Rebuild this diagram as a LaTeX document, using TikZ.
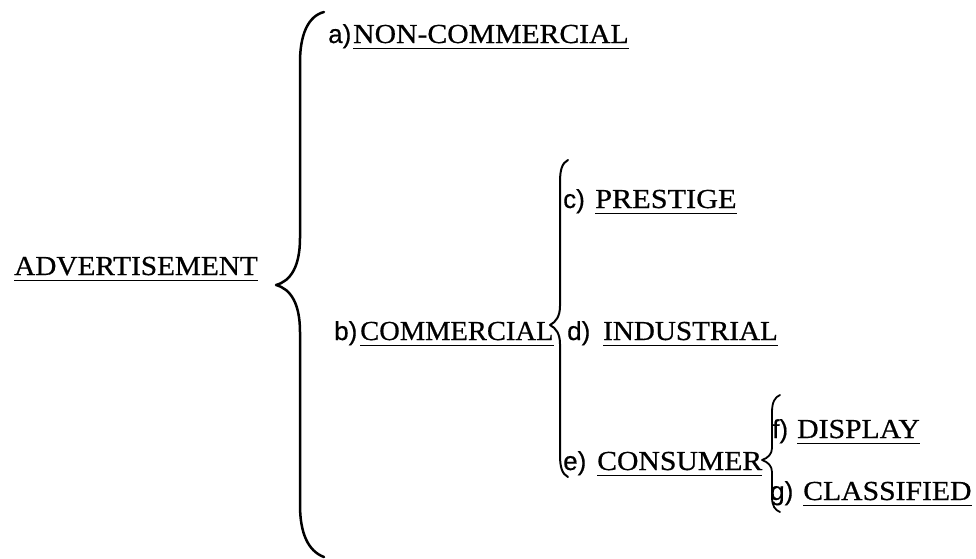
\documentclass[tikz,border=0pt]{standalone}
\usepackage{fontspec}
\setmainfont{Liberation Serif}[FakeStretch=1.08, FakeBold=0.6]
\newfontfamily\prefixfont{Liberation Sans}[FakeBold=0.5]
\usetikzlibrary{calc}
\tikzset{
  word/.style={anchor=base west, inner sep=0pt, font=\fontsize{27.5}{30}\selectfont},
  tag/.style={anchor=base west, inner sep=0pt, font=\prefixfont\fontsize{26}{30}\selectfont},
  brace/.style={line width=2.2pt, line cap=round, line join=round},
  uline/.style={line width=1.7pt}
}
\newcommand{\underword}[1]{\draw[uline] ($(#1.base west)+(0,5.5)$) -- ($(#1.base east)+(0,5.5)$);}
\begin{document}
\begin{tikzpicture}[x=1pt, y=-1pt]
\useasboundingbox (0,0) rectangle (976,558);

% root
\node[word] (adv) at (14,275) {\scalebox{0.985}[1]{ADVERTISEMENT}};

% first level
\node[tag]  (ta) at (328,43) {a)};
\node[word] (nc) at (353,43) {NON-COMMERCIAL};
\node[tag]  (tb) at (334,340) {b)};
\node[word] (cm) at (360,340) {\scalebox{0.96}[1]{COMMERCIAL}};

% second level
\node[tag]  (tc) at (563,208) {c)};
\node[word] (pr) at (595,208) {\scalebox{1.02}[1]{PRESTIGE}};
\node[tag]  (td) at (567,340) {d)};
\node[word] (in) at (603,340) {\scalebox{0.98}[1]{INDUSTRIAL}};
\node[tag]  (te) at (563,470) {e)};
\node[word] (co) at (597,470) {CONSUMER};

% third level
\node[tag]  (tf) at (772,438) {f)};
\node[word] (di) at (797,438) {DISPLAY};
\node[tag]  (tg) at (770,500) {g)};
\node[word] (cl) at (803,500) {CLASSIFIED};

% underlines
\foreach \w in {adv,nc,cm,pr,in,co,di,cl} {\underword{\w}}

% main brace
\draw[brace, line width=2.5pt]
  (324,12) .. controls (308,16) and (300,35) .. (300,62)
  -- (300,238) .. controls (300,266) and (291,281) .. (276,285)
  .. controls (291,289) and (300,304) .. (300,332)
  -- (300,505) .. controls (300,533) and (308,551) .. (324,557);

% brace after COMMERCIAL
\draw[brace, line width=2pt]
  (568,160) .. controls (562,163) and (560,170) .. (560,182)
  -- (560,306) .. controls (560,316) and (556,322) .. (550,325)
  .. controls (556,328) and (560,334) .. (560,344)
  -- (560,455) .. controls (560,467) and (562,474) .. (568,477);

% brace after CONSUMER
\draw[brace, line width=1.8pt]
  (780,395) .. controls (775,397) and (772,402) .. (772,412)
  -- (772,448) .. controls (772,454) and (768,458) .. (762,460)
  .. controls (768,462) and (772,466) .. (772,472)
  -- (772,497) .. controls (772,506) and (775,510) .. (780,512);
\end{tikzpicture}
\end{document}
